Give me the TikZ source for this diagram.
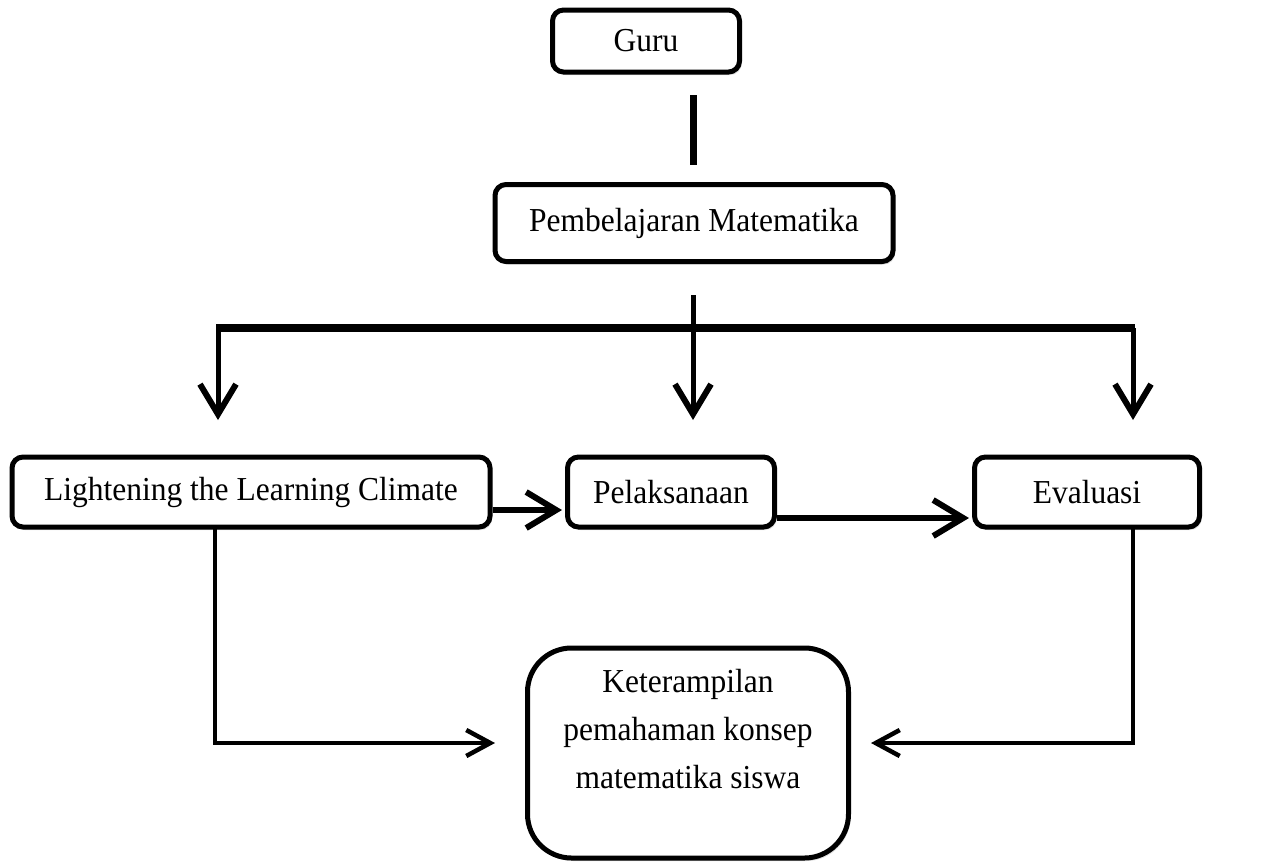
\documentclass[tikz,border=0pt]{standalone}
\usepackage{fontspec}
\setmainfont{Liberation Serif}
\newfontfamily\boxfont[FakeStretch=0.94]{Liberation Serif}
\usetikzlibrary{arrows.meta,calc,shadows}
\begin{document}
\begin{tikzpicture}[x=1pt,y=-1pt,
  box/.style={draw=black, line width=5pt, rounded corners=11pt, fill=white,
    inner sep=0pt, align=center, font=\boxfont\fontsize{33.5}{48}\selectfont,
    drop shadow={shadow xshift=2pt, shadow yshift=-3pt, opacity=0.25}},
  conn/.style={line width=5pt},
  bigtip/.style={-{Straight Barb[length=30pt,width=36pt,line width=6pt]}},
  smalltip/.style={-{Straight Barb[length=24pt,width=26pt,line width=4.5pt]}}
]
\useasboundingbox (0,0) rectangle (1268,863);

\node[box, minimum width=187pt, minimum height=62pt] (gr) at (646,41) {Guru};
\node[box, minimum width=398pt, minimum height=77pt] (pm) at (694,223) {Pembelajaran Matematika};
\node[box, minimum width=478pt, minimum height=70pt] (lc) at (251,492) {Lightening the Learning Climate};
\node[box, minimum width=207pt, minimum height=70pt] (pl) at (671,492) {Pelaksanaan};
\node[box, minimum width=225pt, minimum height=70pt] (ev) at (1087,492) {Evaluasi};
\node[box, rounded corners=44pt, minimum width=321pt, minimum height=210pt] (kt) at (688,753)
  {Keterampilan\\pemahaman konsep\\matematika siswa\\\mbox{}};

% Guru -- Pembelajaran
\coordinate (g1) at (693,95);
\coordinate (g2) at (693,165);
\draw[line width=7pt] (g1) -- (g2);

% branch
\coordinate (p1) at (693,295);
\coordinate (bL) at (218,328);
\coordinate (bR) at (1133,328);
\coordinate (tL) at (218,420);
\coordinate (tM) at (693,420);
\coordinate (tR) at (1133,420);
\draw[line width=8pt] ($(bL)+(-2,0)$) -- ($(bR)+(2,0)$);
\draw[conn,bigtip] (p1) -- (tM);
\draw[conn,bigtip] (bL) -- (tL);
\draw[conn,bigtip] (bR) -- (tR);

% horizontal arrows between boxes
\draw[line width=6pt,bigtip] (lc.east |- 0,510) -- ($(pl.west |- 0,510)+(-3,0)$);
\draw[line width=6pt,bigtip] (pl.east |- 0,518) -- ($(ev.west |- 0,518)+(-3,0)$);

% lower connectors
\coordinate (kL) at ($(kt.west)+(-30,-10)$);
\coordinate (kR) at ($(kt.east)+(20,-10)$);
\draw[line width=4pt,smalltip] (215,527) |- (kL);
\draw[line width=4pt,smalltip] (1133,527) |- (kR);
\end{tikzpicture}
\end{document}
